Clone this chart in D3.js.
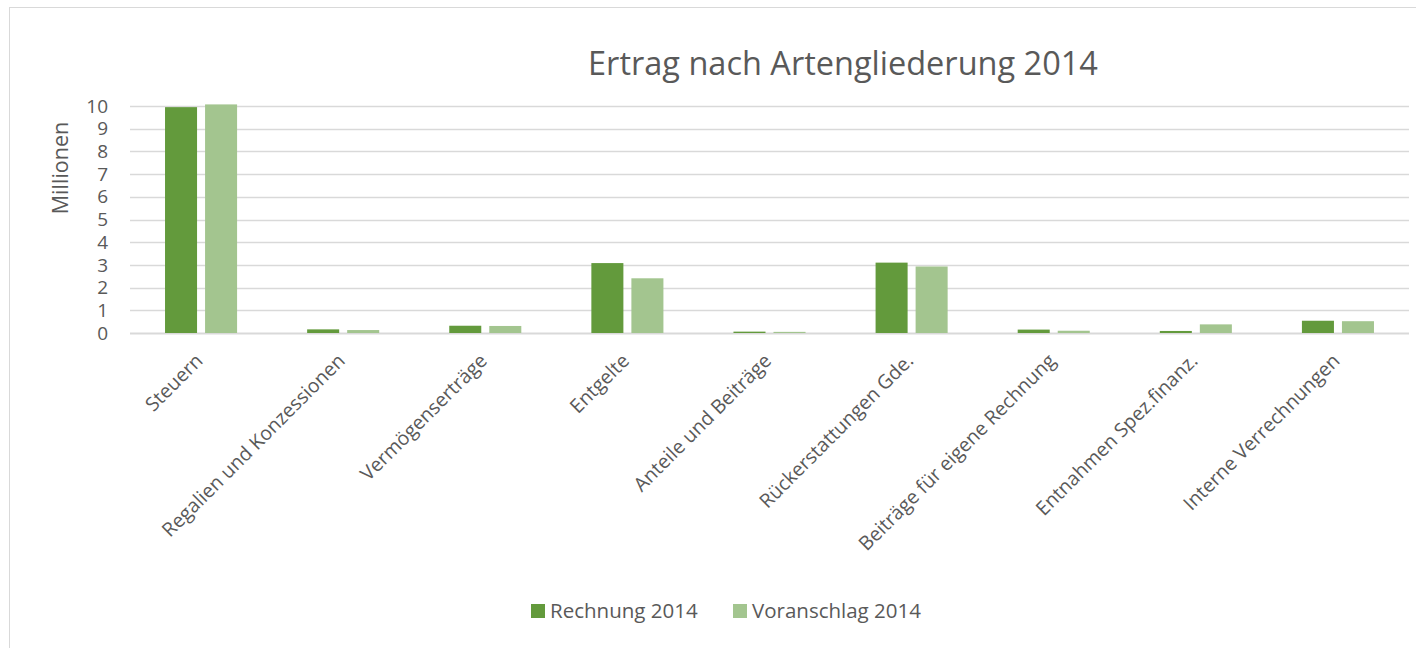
<!DOCTYPE html>
<html>
<head>
<meta charset="utf-8">
<script src="https://cdn.jsdelivr.net/npm/d3@7"></script>
<style>
  body { margin: 0; background: #fff; }
  svg { font-family: "Open Sans", "Noto Sans", sans-serif; }
</style>
</head>
<body>
<div id="chart"></div>
<script>
// data (Millionen)
const categories = [
  "Steuern", "Regalien und Konzessionen", "Vermögenserträge", "Entgelte",
  "Anteile und Beiträge", "Rückerstattungen Gde.", "Beiträge für eigene Rechnung",
  "Entnahmen Spez.finanz.", "Interne Verrechnungen"
];
const rechnung = [9.95, 0.16, 0.32, 3.08, 0.06, 3.1, 0.15, 0.09, 0.54];
const voranschlag = [10.07, 0.13, 0.31, 2.41, 0.05, 2.93, 0.1, 0.38, 0.52];
const seriesNames = ["Rechnung 2014", "Voranschlag 2014"];
const colors = ["#639a3c", "#a3c58f"];
const yTicks = [0, 1, 2, 3, 4, 5, 6, 7, 8, 9, 10];

const width = 1416, height = 648;
const margin = { top: 106, right: 7, bottom: 315, left: 130 };
const plotW = width - margin.left - margin.right;
const plotH = height - margin.top - margin.bottom;

const svg = d3.select("#chart").append("svg")
  .attr("width", width)
  .attr("height", height);

// outer frame
svg.append("rect")
  .attr("x", 9.5).attr("y", 7.5)
  .attr("width", width).attr("height", height)
  .attr("fill", "none")
  .attr("stroke", "#d9d9d9");

svg.append("text")
  .attr("x", 843).attr("y", 75)
  .attr("text-anchor", "middle")
  .attr("fill", "#595959")
  .attr("font-size", 32.5)
  .text("Ertrag nach Artengliederung 2014");

const g = svg.append("g")
  .attr("transform", `translate(${margin.left},${margin.top})`);

const x0 = d3.scaleBand().domain(categories).range([0, plotW]);
const x1 = d3.scaleBand().domain(seriesNames).range([0, x0.bandwidth()])
  .paddingInner(0.2).paddingOuter(0.875);
const y = d3.scaleLinear().domain([0, 10]).range([plotH, 0]);

// gridlines
g.selectAll("line.grid")
  .data(yTicks)
  .enter().append("line")
  .attr("class", "grid")
  .attr("x1", 0).attr("x2", plotW)
  .attr("y1", d => Math.round(y(d)) + 0.5)
  .attr("y2", d => Math.round(y(d)) + 0.5)
  .attr("stroke", "#d9d9d9")
  .attr("stroke-width", d => d === 0 ? 2 : 1.5);

// y tick labels
g.selectAll("text.ytick")
  .data(yTicks)
  .enter().append("text")
  .attr("class", "ytick")
  .attr("x", -22)
  .attr("y", d => y(d))
  .attr("dy", "0.35em")
  .attr("text-anchor", "end")
  .attr("fill", "#595959")
  .attr("font-size", 19)
  .text(d => d);

// axis title
svg.append("text")
  .attr("transform", `translate(68,${margin.top + 62}) rotate(-90)`)
  .attr("text-anchor", "middle")
  .attr("fill", "#595959")
  .attr("font-size", 21.5)
  .text("Millionen");

// bars
const rows = categories.map((c, i) => ({ cat: c, vals: [rechnung[i], voranschlag[i]] }));
const groups = g.selectAll("g.cat")
  .data(rows)
  .enter().append("g")
  .attr("transform", d => `translate(${x0(d.cat)},0)`);

groups.selectAll("rect")
  .data(d => d.vals.map((v, k) => ({ name: seriesNames[k], v, k })))
  .enter().append("rect")
  .attr("x", d => x1(d.name))
  .attr("y", d => y(d.v))
  .attr("width", x1.bandwidth())
  .attr("height", d => plotH - y(d.v))
  .attr("fill", d => colors[d.k]);

// category labels
g.selectAll("text.xlab")
  .data(categories)
  .enter().append("text")
  .attr("class", "xlab")
  .attr("transform", d => `translate(${x0(d) + x0.bandwidth() / 2 + 3},${plotH + 29}) rotate(-45)`)
  .attr("text-anchor", "end")
  .attr("fill", "#595959")
  .attr("font-size", 19.5)
  .text(d => d);

// legend
const legend = svg.append("g").attr("transform", "translate(531,611)");
const legX = [0, 202];
seriesNames.forEach((name, i) => {
  legend.append("rect")
    .attr("x", legX[i]).attr("y", -7)
    .attr("width", 14).attr("height", 14)
    .attr("fill", colors[i]);
  legend.append("text")
    .attr("x", legX[i] + 19).attr("y", 0)
    .attr("dy", "0.35em")
    .attr("fill", "#595959")
    .attr("font-size", 20.5)
    .text(name);
});
</script>
</body>
</html>
